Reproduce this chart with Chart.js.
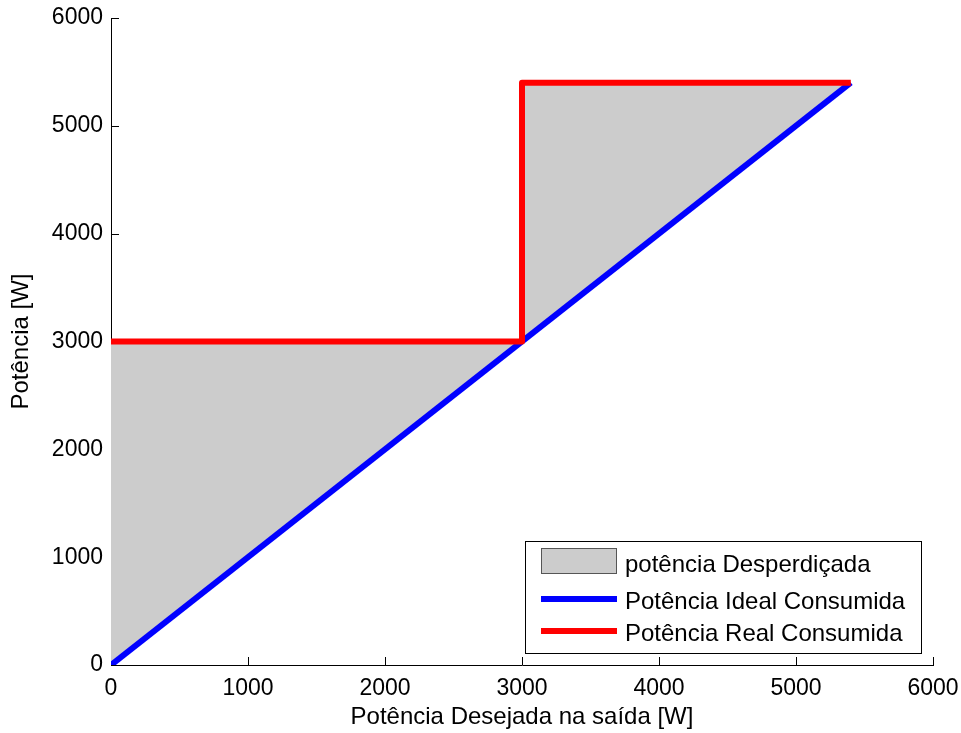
<!DOCTYPE html>
<html>
<head>
<meta charset="utf-8">
<script src="https://cdn.jsdelivr.net/npm/chart.js@4/dist/chart.umd.min.js"></script>
<style>
  html, body { margin: 0; padding: 0; background: #fff; }
  #wrap { width: 961px; height: 733px; }
</style>
</head>
<body>
<div id="wrap"><canvas id="plot" width="961" height="733"></canvas></div>
<script>
// values
var idealX = [0, 5400];
var idealY = [0, 5400];
var realX = [0, 3000, 3000, 5400];
var realY = [3000, 3000, 5400, 5400];
var axisTicks = [0, 1000, 2000, 3000, 4000, 5000, 6000];

var seriesLabels = ['potência Desperdiçada', 'Potência Ideal Consumida', 'Potência Real Consumida'];
var fontName = '"Liberation Sans", Arial, sans-serif';

function toPoints(xs, ys) {
    var pts = [];
    for (var i = 0; i < xs.length; i++) {
        pts.push({x: xs[i], y: ys[i]});
    }
    return pts;
}

//small inward ticks like matlab, drawn under the datasets
var inwardTicks = {
    id: 'inwardTicks',
    beforeDatasetsDraw: function(chart) {
        var ctx = chart.ctx;
        var xs = chart.scales.x, ys = chart.scales.y;
        var area = chart.chartArea;
        ctx.save();
        ctx.strokeStyle = '#000';
        ctx.lineWidth = 1;
        ctx.beginPath();
        axisTicks.forEach(function(v) {
            var px = Math.round(xs.getPixelForValue(v)) + 0.5;
            ctx.moveTo(px, area.bottom);
            ctx.lineTo(px, area.bottom - 8);
            var py = Math.round(ys.getPixelForValue(v)) + 0.5;
            ctx.moveTo(area.left, py);
            ctx.lineTo(area.left + 8, py);
        });
        ctx.stroke();
        ctx.restore();
    }
};

//legend box inside the axes, lower right
var boxLegend = {
    id: 'boxLegend',
    afterDraw: function(chart) {
        var ctx = chart.ctx;
        var left = 525.5, top = 541.5, w = 396, h = 112;
        ctx.save();
        ctx.fillStyle = '#fff';
        ctx.fillRect(left, top, w, h);
        ctx.strokeStyle = '#000';
        ctx.lineWidth = 1;
        ctx.strokeRect(left, top, w, h);

        var rows = [565, 602, 634];
        chart.data.datasets.forEach(function(ds, i) {
            var y = rows[i];
            if (i === 0) {
                ctx.fillStyle = ds.backgroundColor;
                ctx.fillRect(541, 548, 76, 26);
                ctx.strokeStyle = '#555';
                ctx.strokeRect(541.5, 548.5, 75, 25);
            } else {
                ctx.strokeStyle = ds.borderColor;
                ctx.lineWidth = 6;
                ctx.beginPath();
                ctx.moveTo(541, y - 3);
                ctx.lineTo(617, y - 3);
                ctx.stroke();
            }
            ctx.fillStyle = '#000';
            ctx.font = '24px ' + fontName;
            ctx.textBaseline = 'middle';
            ctx.fillText(ds.label, 625, y);
        });
        ctx.restore();
    }
};

function plainTick(value) {
    return String(value);
}

// keep the plot box where the reference has it
function noPadding(scale) {
    scale.paddingLeft = 0;
    scale.paddingRight = 0;
    scale.paddingTop = 0;
    scale.paddingBottom = 0;
}

var config = {
    type: 'line',
    data: {
        datasets: [{
            label: seriesLabels[0],
            data: toPoints(realX, realY),
            backgroundColor: '#cccccc',
            borderWidth: 0,
            pointRadius: 0,
            fill: 1,
            order: 3
        }, {
            label: seriesLabels[1],
            data: toPoints(idealX, idealY),
            borderColor: '#0000ff',
            borderWidth: 6,
            pointRadius: 0,
            fill: false,
            order: 2
        }, {
            label: seriesLabels[2],
            data: toPoints(realX, realY),
            borderColor: '#ff0000',
            borderWidth: 6,
            borderJoinStyle: 'round',
            pointRadius: 0,
            fill: false,
            order: 1
        }]
    },
    options: {
        responsive: false,
        animation: false,
        layout: { padding: { top: 18, right: 28, left: 0, bottom: 0 } },
        plugins: {
            legend: { display: false },
            tooltip: { enabled: false }
        },
        scales: {
            x: {
                type: 'linear',
                min: 0,
                max: 6000,
                afterBuildTicks: function(scale) {
                    scale.ticks = axisTicks.map(function(v) { return {value: v}; });
                },
                afterFit: function(scale) { scale.height = 68; noPadding(scale); },
                grid: { display: false, drawTicks: false, tickLength: 0 },
                border: { display: true, color: '#000', width: 1 },
                ticks: { color: '#000', font: { family: fontName, size: 23 }, padding: 10, maxRotation: 0, callback: plainTick },
                title: {
                    display: true,
                    text: 'Potência Desejada na saída [W]',
                    color: '#000',
                    font: { family: fontName, size: 24 },
                    padding: { top: 0, bottom: 1 }
                }
            },
            y: {
                type: 'linear',
                min: 0,
                max: 6000,
                afterBuildTicks: function(scale) {
                    scale.ticks = axisTicks.map(function(v) { return {value: v}; });
                },
                afterFit: function(scale) { scale.width = 111; noPadding(scale); },
                grid: { display: false, drawTicks: false, tickLength: 0 },
                border: { display: true, color: '#000', width: 1 },
                ticks: { color: '#000', font: { family: fontName, size: 23 }, padding: 8, callback: plainTick },
                title: {
                    display: true,
                    text: 'Potência [W]',
                    color: '#000',
                    font: { family: fontName, size: 24 },
                    padding: { top: 7, bottom: 0 }
                }
            }
        }
    },
    plugins: [inwardTicks, boxLegend]
};

new Chart(document.getElementById('plot').getContext('2d'), config);
</script>
</body>
</html>
